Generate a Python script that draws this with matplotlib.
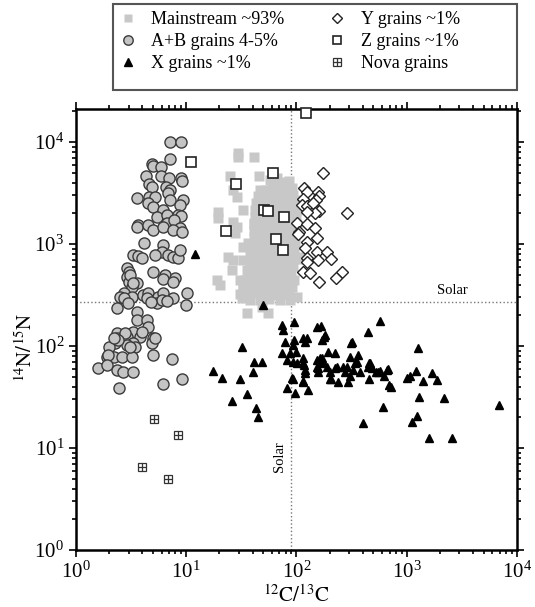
import numpy as np
import matplotlib
matplotlib.use('Agg')
import matplotlib.pyplot as plt
from matplotlib.legend_handler import HandlerTuple
from matplotlib.patches import Rectangle

plt.rcParams['font.family'] = ['Liberation Serif', 'DejaVu Serif']
plt.rcParams['mathtext.fontset'] = 'stix'

# Mainstream grains (12C/13C, 14N/15N)
ms_c = [60, 66, 74, 86,
        53, 61, 70, 80, 92,
        45, 52, 60, 69, 80, 93,
        43, 50, 57, 66, 77, 89, 103,
        42, 49, 56, 65, 75, 87, 101,
        42, 48, 56, 65, 75, 87, 100,
        41, 48, 55, 64, 74, 85, 99,
        41, 47, 55, 64, 74, 85, 98,
        41, 47, 55, 63, 73, 85, 98,
        40, 47, 54, 62, 72, 84, 97,
        40, 46, 53, 61, 71, 82, 95,
        39, 45, 52, 60, 70, 80, 93, 106,
        39, 45, 52, 60, 69, 80, 93,
        37, 43, 50, 57, 66, 77, 89,
        34, 40, 46, 53, 61, 71, 82, 95,
        33, 38, 44, 51, 59, 68, 79, 91,
        31, 36, 41, 48, 55, 64, 74, 85,
        38, 47, 57, 71, 87,
        29.5, 29.5, 41.2, 24.9, 45.7, 26.5, 28.8, 19.4, 19.4, 26.5,
        32.7, 28.8, 27.7, 32.7, 23.9, 26.5, 26.0, 19.0, 20.2, 30.7,
        32.7, 35.6, 32.7, 37.9, 36.4, 41.2, 46.6, 66.5, 37.9, 32.0,
        35.6, 55.1, 48.6, 101, 108, 101, 96.9, 66.5, 57.5]
ms_n = [4100, 3950, 4050, 4150,
        3400, 3500, 3450, 3380, 3520,
        2950, 3000, 2900, 2980, 2920, 3000,
        2500, 2560, 2480, 2540, 2500, 2550, 2480,
        2150, 2100, 2180, 2130, 2170, 2120, 2160,
        1850, 1820, 1860, 1830, 1850, 1810, 1840,
        1560, 1590, 1550, 1580, 1560, 1590, 1570,
        1350, 1320, 1340, 1360, 1330, 1350, 1340,
        1160, 1140, 1150, 1170, 1140, 1160, 1150,
        980, 1000, 970, 990, 975, 985, 970,
        840, 830, 845, 825, 840, 835, 845,
        715, 705, 720, 710, 715, 705, 720, 710,
        610, 600, 615, 605, 612, 600, 610,
        520, 525, 515, 522, 518, 525, 515,
        445, 440, 448, 442, 446, 440, 448, 442,
        380, 375, 383, 378, 382, 376, 380, 378,
        325, 320, 328, 322, 326, 320, 327, 322,
        283, 280, 286, 282, 285,
        7800, 7130, 7130, 4640, 4640, 3380, 2890, 2060, 1800, 1640,
        2150, 1470, 1280, 935, 746, 697, 556, 444, 396, 444,
        379, 556, 697, 816, 1020, 1610, 3380, 3380, 652, 296,
        211, 211, 241, 302, 746, 1470, 2700, 4440, 4240]

# A+B grains
ab_c = [7.1, 9.0, 7.1, 4.9, 5.0, 5.9, 4.3, 5.9, 7.0, 9.0, 9.2, 4.6, 4.9, 6.5, 7.1,
        3.6, 4.6, 5.2, 6.8, 7.1, 9.4, 4.5, 5.0, 6.2, 8.8, 5.4, 6.7, 8.4, 9.0,
        3.65, 3.6, 4.5, 6.7, 7.7, 8.8, 5.0, 6.2, 7.6, 9.2, 4.1, 6.2, 6.0,
        3.3, 3.65, 4.0, 5.2, 6.8, 7.6, 8.4, 8.8, 2.9, 3.0, 5.0, 6.4, 7.9, 6.2,
        7.6, 2.9, 3.0, 3.6, 3.2, 2.7, 3.2, 2.5, 4.05, 4.5, 5.2, 5.5, 6.2, 7.6,
        10.2, 9.9, 4.4, 5.4, 6.0, 4.8, 6.7, 2.35, 3.6, 3.6, 4.4, 4.5, 2.35,
        3.3, 2.9, 3.8, 2.35, 3.3, 2.9, 3.4, 5.0, 2.26, 2.0, 1.9, 2.2, 2.6,
        3.2, 5.0, 7.4, 1.58, 2.35, 2.67, 3.3, 6.15, 9.15, 2.45, 4.9, 2.8,
        2.4, 3.1, 3.1, 3.3, 2.7, 2.96, 4.0, 5.2, 1.95, 1.9, 2.2]
ab_n = [10000, 10000, 6800, 6100, 5800, 5700, 4600, 4600, 4400, 4400, 4200, 3900,
        3600, 3600, 3400, 2800, 2900, 2900, 3200, 2700, 2700, 2500, 2300, 2150,
        2400, 1840, 1920, 1920, 1900, 1540, 1470, 1540, 1610, 1720, 1430, 1370,
        1470, 1370, 1310, 1020, 980, 835, 780, 760, 730, 780, 780, 750, 730, 870,
        580, 530, 530, 500, 464, 454, 424, 475, 424, 415, 380, 330, 300, 300,
        316, 330, 283, 300, 330, 296, 330, 252, 296, 264, 283, 270, 276, 236,
        215, 180, 180, 154, 134, 137, 122, 122, 120, 107, 102, 98, 120, 107, 98,
        78, 78, 78, 78, 82, 75, 61, 58, 56, 56, 42, 47, 39, 107, 134, 115, 98,
        497, 415, 296, 264, 137, 120, 82, 65, 120]

# X grains
x_c = [12.0, 49.7, 17.5, 21.1, 26.0, 32.0, 30.7, 35.6, 40.3, 41.2, 48.6, 42.9,
       44.7, 73.9, 75.4, 94.9, 78.7, 92.9, 94.9, 73.9, 87.3, 98.9, 82.0, 92.9,
       101, 82.0, 92.9, 96.9, 115, 125, 115, 117, 119, 115, 127, 153, 167, 178,
       170, 193, 223, 153, 163, 175, 153, 189, 157, 201, 223, 206, 238, 264,
       275, 293, 306, 312, 319, 306, 339, 361, 325, 377, 445, 454, 454, 484,
       572, 401, 549, 622, 609, 662, 690, 720, 1005, 1070, 1120, 1210, 1240,
       1270, 1290, 1400, 1690, 1880, 1590, 2180, 2570, 6870, 119, 115, 170,
       163, 157, 233, 287, 119, 91, 115, 201, 354, 181, 526, 464, 445, 676, 572]
x_n = [800, 252, 57, 48.6, 28.9, 97.8, 47.5, 33.8, 55.6, 69.7, 69.7, 24.7,
       20.1, 161, 144, 172, 109, 102, 115, 85.4, 85.4, 87.4, 72.9, 69.7,
       68.1, 38.7, 47.5, 34.6, 120, 120, 76.3, 65.1, 58.2, 45.4, 37.0, 154, 157, 122,
       115, 87.4, 85.4, 72.9, 76.3, 69.7, 62.2, 62.2, 55.6, 55.6, 60.8, 47.5, 44.4, 62.2,
       55.6, 44.4, 50.8, 107, 109, 78.0, 68.1, 81.6, 58.2, 55.6, 137, 68.1, 47.5, 60.8,
       176, 17.6, 55.6, 50.8, 25.2, 58.2, 41.5, 39.6, 48.6, 50.8, 18.0, 56.9, 20.6,
       95.6, 31.6, 45.4, 54.4, 46.4, 12.5, 30.9, 12.5, 26.4, 109, 68.1, 76.3,
       68.1, 60.8, 62.2, 62.2, 54.4, 48.6, 44.4, 47.5, 69.7, 128, 55.6, 68.1, 62.2, 59.5, 56.9]

# Y grains
y_c = [174, 117, 125, 157, 160, 115, 150, 112, 125, 141, 160, 147, 125, 287,
       101, 125, 147, 105, 103, 153, 125, 119, 153, 189, 125, 157, 206, 125,
       115, 133, 259, 228, 160]
y_n = [4970, 3540, 3240, 3240, 2960, 2760, 2700, 2410, 2360, 2520, 2110, 2010,
       2060, 2010, 1610, 1570, 1430, 1310, 1250, 1150, 1050, 914, 835, 835,
       729, 697, 713, 666, 531, 520, 531, 464, 424]

# Z grains
z_c = [11.0, 28.3, 22.9, 61.2, 50.7, 55.1, 77.0, 65.2, 75.4, 122]
z_n = [6370, 3870, 1340, 4970, 2150, 2110, 1840, 1120, 873, 19250]

# Nova grains
nova_c = [5.1, 8.4, 4.0, 6.8]
nova_n = [19.2, 13.4, 6.5, 5.0]

solar_c = 89
solar_n = 272

fig = plt.figure(figsize=(5.35, 6.07), dpi=100)
ax = fig.add_axes([0.142, 0.094, 0.824, 0.726])
ax.set_xscale('log')
ax.set_yscale('log')
ax.set_xlim(1, 1e4)
ax.set_ylim(1, 2.1e4)

ax.axhline(solar_n, color='#777777', ls=':', lw=1.0, zorder=1)
ax.axvline(solar_c, color='#777777', ls=':', lw=1.0, zorder=1)

h_ms, = ax.plot(ms_c, ms_n, 's', ms=7, mfc='#c8c8c8', mec='none', ls='none', zorder=2)
h_y, = ax.plot(y_c, y_n, 'D', ms=6, mfc='white', mec='#222222', mew=1.0, ls='none', zorder=3)
h_z, = ax.plot(z_c, z_n, 's', ms=7, mfc='white', mec='#222222', mew=1.2, ls='none', zorder=4,
               clip_on=False)
h_x, = ax.plot(x_c, x_n, '^', ms=6, mfc='black', mec='black', ls='none', zorder=4)
h_ab, = ax.plot(ab_c, ab_n, 'o', ms=8, mfc='#c4c4c4', mec='#3a3a3a', mew=1.0, ls='none', zorder=5)
h_nb, = ax.plot(nova_c, nova_n, 's', ms=6, mfc='white', mec='#333333', mew=0.9, ls='none', zorder=5)
h_np, = ax.plot(nova_c, nova_n, '+', ms=6, mec='#333333', mew=0.9, ls='none', zorder=6)

ax.text(2600, 300, 'Solar', fontsize=10.5, ha='center', va='bottom')
ax.text(80, 8.2, 'Solar', fontsize=10.5, rotation=90, ha='right', va='center')

ax.set_xlabel(r'$^{12}\mathrm{C}/^{13}\mathrm{C}$', fontsize=15, labelpad=2)
ax.set_ylabel(r'$^{14}\mathrm{N}/^{15}\mathrm{N}$', fontsize=15)
ax.yaxis.set_label_coords(-0.088, 0.46)

ax.tick_params(which='both', direction='out', top=True, right=True, labelsize=15, width=1.2)
ax.tick_params(which='major', length=5)
ax.tick_params(which='minor', length=3)
for s in ax.spines.values():
    s.set_linewidth(1.8)

# legend frame drawn separately so the columns can sit where they do in the original
fig.patches.append(Rectangle((0.211, 0.852), 0.755, 0.141, transform=fig.transFigure,
                             fill=False, edgecolor='#555555', lw=1.5))
leg = fig.legend([h_ms, h_ab, h_x, h_y, h_z, (h_nb, h_np)],
                 ['Mainstream ~93%', 'A+B grains 4-5%', 'X grains ~1%',
                  'Y grains ~1%', 'Z grains ~1%', 'Nova grains'],
                 ncol=2, loc='upper left', bbox_to_anchor=(0.219, 0.982),
                 fontsize=13, frameon=False, markerscale=0.85,
                 handlelength=1.2, handletextpad=0.7, labelspacing=0.28,
                 columnspacing=2.3, borderaxespad=0.0, borderpad=0.0,
                 handler_map={tuple: HandlerTuple(ndivide=1, pad=0)})

fig.savefig('out.png', dpi=100)
